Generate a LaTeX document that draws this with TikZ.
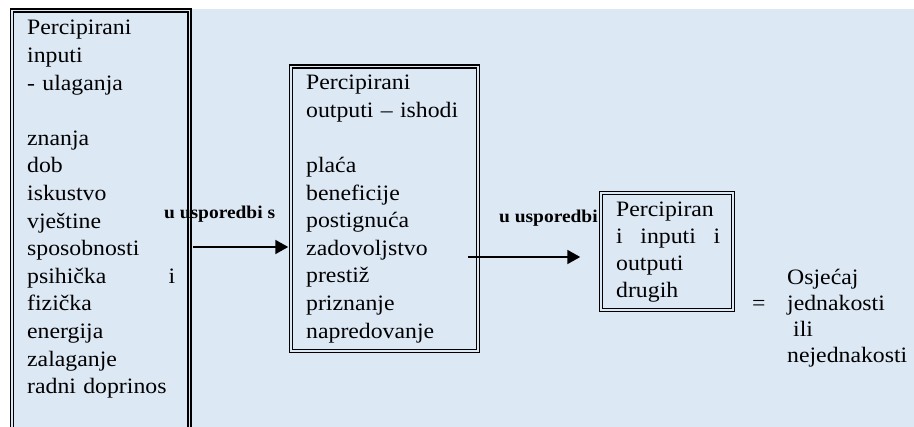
\documentclass[tikz,border=0pt]{standalone}
\usepackage{fontspec}
\setmainfont[FakeStretch=1.08]{Liberation Serif}
\usetikzlibrary{arrows.meta}
\definecolor{bgblue}{RGB}{221,232,245}

\begin{document}
\begin{tikzpicture}[x=1pt,y=-1pt,
  box/.style={draw,double=bgblue,double distance=1.4pt,line width=1.5pt,inner sep=0pt},
  txt/.style={anchor=base west,inner sep=0pt,align=left,font=\fontsize{22}{27.6}\selectfont},
  lbl/.style={anchor=base west,inner sep=0pt,font=\fontsize{18}{20}\selectfont\bfseries},
  arr/.style={-{Triangle[length=13pt,width=14pt]},line width=2pt}]

\useasboundingbox (0,0) rectangle (914,427);
\fill[bgblue] (10,9) rectangle (914,427);

\node[box,minimum width=177.5pt,minimum height=429.5pt](inp) at (100.75,225.25) {};
\node[box,minimum width=187pt,minimum height=284.5pt](outp) at (384.5,208.75) {};

\node[lbl](cmp1) at (164,219) {u usporedbi s};
\node[lbl](cmp2) at (499,223) {u usporedbi s};

\coordinate (a1) at (0,247);
\coordinate (s2) at (468,257);

\node[box,fill=bgblue,minimum width=132pt,minimum height=117pt](drug) at (667,251.5) {};

\begin{scope}[arr]
\draw[shorten <=2.5pt,shorten >=2pt] (inp.east |- a1) -- (outp.west |- a1);
\draw[shorten >=20pt] (s2) -- (drug.west |- s2);
\end{scope}

\node[txt,text width=148pt](inptxt) at (27,35)
  {Percipirani\\inputi\\- ulaganja\\[27.6pt]znanja\\dob\\iskustvo\\vještine\\sposobnosti\\
   psihička\hskip 0pt plus 1fill i\\fizička\\energija\\zalaganje\\radni doprinos};
\node[txt,text width=165pt](outptxt) at (306,90)
  {Percipirani\\outputi – ishodi\\[27.4pt]plaća\\beneficije\\postignuća\\zadovoljstvo\\
   prestiž\\priznanje\\napredovanje};
\node[txt,text width=104pt,font=\fontsize{22}{27}\selectfont](drugtxt) at (616,217)
  {Percipiran\\i\hskip 0pt plus 1fill inputi\hskip 0pt plus 1fill i\\outputi\\drugih};

\node[txt](eq) at (752,311) {=};
\node[txt,text width=130pt,font=\fontsize{22}{26}\selectfont](feel) at (787,285)
  {Osjećaj\\jednakosti\\\hspace*{6pt}ili\\nejednakosti};

\end{tikzpicture}
\end{document}
